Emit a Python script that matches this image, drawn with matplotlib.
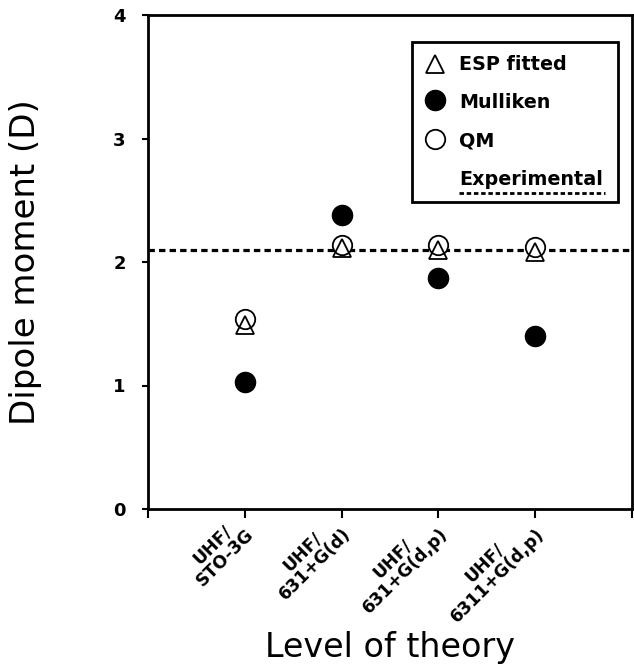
import matplotlib
matplotlib.use("Agg")
import matplotlib.pyplot as plt
from matplotlib.patches import Rectangle

plt.rcParams['font.family'] = ['DejaVu Sans']

levels = ["UHF/\nSTO-3G", "UHF/\n631+G(d)", "UHF/\n631+G(d,p)", "UHF/\n6311+G(d,p)"]
positions = [1, 2, 3, 4]
esp_fitted = [1.49, 2.11, 2.10, 2.08]
mulliken = [1.03, 2.38, 1.87, 1.40]
qm = [1.54, 2.14, 2.14, 2.12]
experimental = 2.10

W, H = 634, 669
fig = plt.figure(figsize=(W / 100, H / 100), dpi=100)
ax = fig.add_axes([148 / W, 1 - 509 / H, 484 / W, 494 / H])

ax.axhline(experimental, color='black', lw=2.3, linestyle=(0, (2.0, 1.3)), zorder=1)
ax.plot(positions, qm, linestyle='none', marker='o', ms=14, mfc='white', mec='black', mew=1.3, zorder=2)
ax.plot(positions, esp_fitted, linestyle='none', marker='^', ms=13, mfc='none', mec='black', mew=1.3, zorder=3)
ax.plot(positions, mulliken, linestyle='none', marker='o', ms=14.5, mfc='black', mec='black', zorder=4)

ax.set_xlim(0, 5)
ax.set_ylim(0, 4)
ax.set_yticks([0, 1, 2, 3, 4])
ax.set_xticks([0, 1, 2, 3, 4, 5])
ax.set_xticklabels([""] + levels + [""])
for lab in ax.get_xticklabels():
    lab.set_rotation(45)
    lab.set_ha('right')
    lab.set_va('center')
    lab.set_rotation_mode('anchor')
    lab.set_multialignment('center')
    lab.set_fontweight('bold')
    lab.set_fontsize(12.5)
    lab.set_linespacing(1.0)
for lab in ax.get_yticklabels():
    lab.set_fontweight('bold')
    lab.set_fontsize(13)

for s in ax.spines.values():
    s.set_linewidth(2.0)
ax.tick_params(axis='y', direction='out', length=4, width=1.5, pad=12)
ax.tick_params(axis='x', direction='out', length=6.5, width=1.5, pad=5)

ax.set_ylabel("Dipole moment (D)", fontsize=24.5)
ax.yaxis.label.set_va('baseline')
ax.yaxis.set_label_coords((35 - 148) / 484, 0.5)
ax.set_xlabel("Level of theory", fontsize=24)
ax.xaxis.label.set_va('baseline')
ax.xaxis.set_label_coords(0.5, (509 - 657) / 494)

# legend drawn manually in axes coordinates
ax.add_patch(Rectangle((0.545, 0.621), 0.426, 0.324, transform=ax.transAxes,
                       fill=False, edgecolor='black', lw=2.0, zorder=5))
mx, tx = 0.593, 0.643
ax.plot([mx], [0.901], transform=ax.transAxes, marker='^', ms=13, mfc='none', mec='black', mew=1.3, zorder=6)
ax.plot([mx], [0.828], transform=ax.transAxes, marker='o', ms=14.5, mfc='black', mec='black', zorder=6)
ax.plot([mx], [0.748], transform=ax.transAxes, marker='o', ms=14, mfc='white', mec='black', mew=1.3, zorder=6)
for y, t in [(0.889, "ESP fitted"), (0.812, "Mulliken"), (0.733, "QM"), (0.656, "Experimental")]:
    ax.text(tx, y, t, transform=ax.transAxes, fontsize=13.8, fontweight='bold',
            va='baseline', ha='left', zorder=6)
ax.plot([tx, 0.944], [0.640, 0.640], transform=ax.transAxes, color='black', lw=2.0,
        linestyle=(0, (1.6, 1.0)), zorder=6)

fig.savefig("out.png", dpi=100)
